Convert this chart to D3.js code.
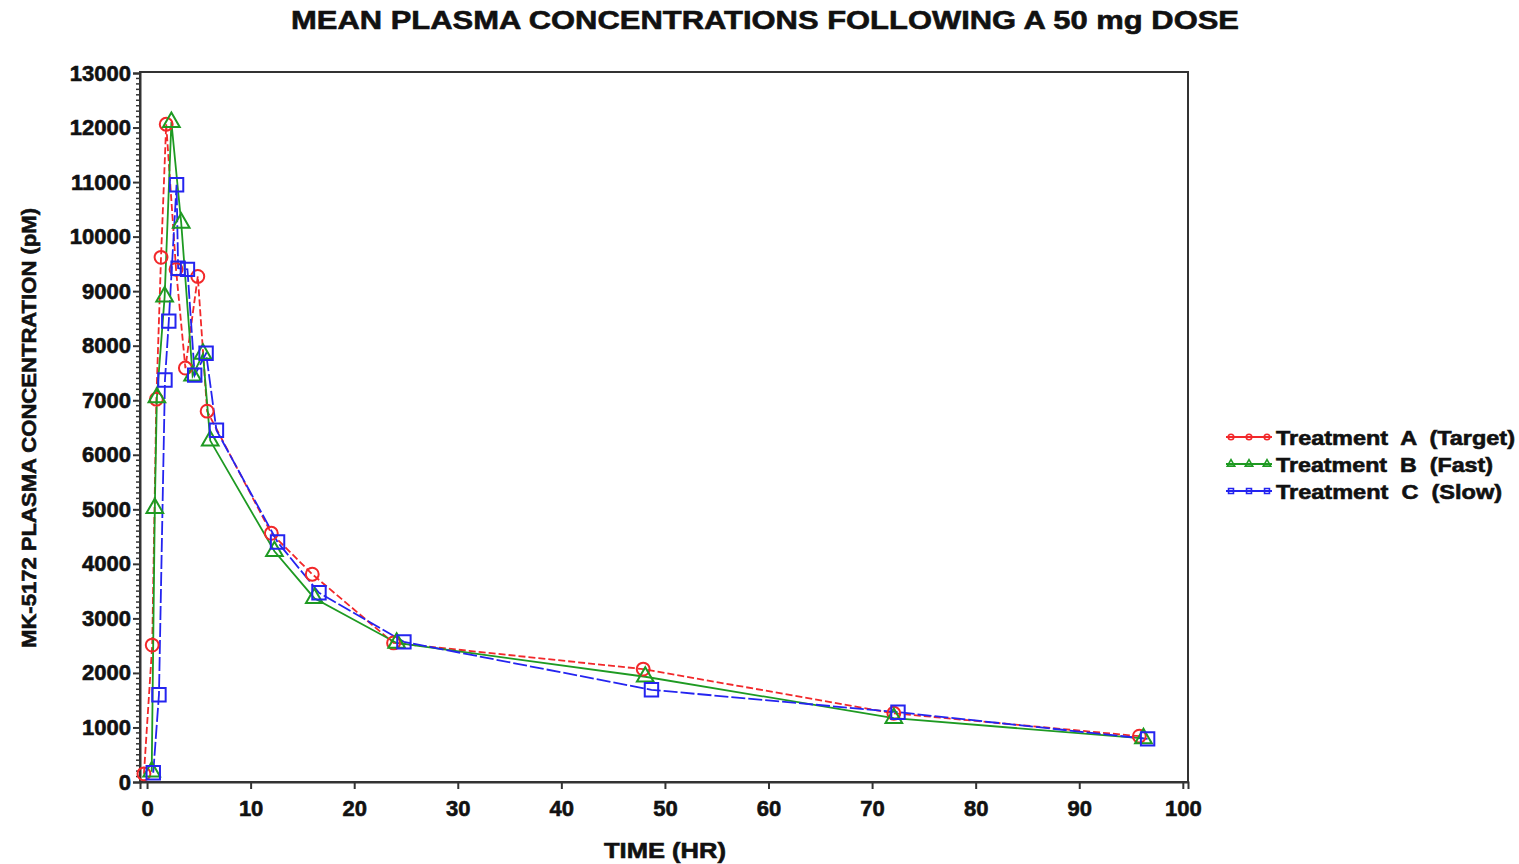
<!DOCTYPE html>
<html>
<head>
<meta charset="utf-8">
<script src="https://cdn.jsdelivr.net/npm/d3@7"></script>
<style>
  html, body { margin: 0; padding: 0; background: #fff; }
  svg { display: block; }
  text { font-family: "Liberation Sans", Arial, sans-serif; font-weight: bold; fill: #111; stroke: #111; stroke-width: 0.6px; }
</style>
</head>
<body>
<svg id="chart" width="1519" height="864"></svg>
<script>
// Mean plasma concentration (pM) versus time (hr); times as plotted (slightly staggered per treatment)
const timeA = [-0.3, 0.5, 0.9, 1.35, 1.85, 2.8, 3.7, 4.9, 5.8, 12.0, 15.95, 23.8, 47.9, 72.1, 95.8];
const concA = [150, 2510, 7020, 9620, 12060, 9400, 7590, 9270, 6800, 4560, 3810, 2550, 2070, 1260, 840];

const timeB = [0.45, 0.75, 0.95, 1.7, 2.35, 3.3, 4.4, 5.4, 6.1, 12.3, 16.15, 24.1, 48.1, 72.1, 96.2];
const concB = [190, 5020, 7050, 8900, 12100, 10250, 7450, 7850, 6260, 4230, 3370, 2550, 1930, 1170, 800];

const timeC = [0.6, 1.15, 1.73, 2.1, 2.85, 3.0, 3.9, 4.6, 5.7, 6.7, 12.6, 16.6, 24.8, 48.7, 72.5, 96.6];
const concC = [170, 1600, 7370, 8450, 10950, 9420, 9400, 7460, 7860, 6450, 4400, 3470, 2570, 1690, 1280, 790];

const seriesNames = ["Treatment  A  (Target)", "Treatment  B  (Fast)", "Treatment  C  (Slow)"];
const seriesColors = ["#f2282a", "#1e9a22", "#2424f0"];
const seriesSymbols = ["circle", "triangle", "square"];
const seriesDash = ["7,3", null, "14,3"];

const xTicks = [0, 10, 20, 30, 40, 50, 60, 70, 80, 90, 100];
const yTicks = [0, 1000, 2000, 3000, 4000, 5000, 6000, 7000, 8000, 9000, 10000, 11000, 12000, 13000];

const titleText = "MEAN PLASMA CONCENTRATIONS FOLLOWING A 50 mg DOSE";
const xTitle = "TIME (HR)";
const yTitle = "MK-5172 PLASMA CONCENTRATION (pM)";

const series = [
  { t: timeA, c: concA },
  { t: timeB, c: concB },
  { t: timeC, c: concC }
].map((s, i) => ({
  name: seriesNames[i], color: seriesColors[i], symbol: seriesSymbols[i], dash: seriesDash[i],
  points: s.t.map((t, j) => ({ t, c: s.c[j] }))
}));

const svg = d3.select("#chart");
const frame = { left: 140, right: 1188, top: 72, bottom: 782 };

const x = d3.scaleLinear().domain([-0.68, 100.5]).range([frame.left, frame.right]);
const y = d3.scaleLinear().domain([0, 13000]).range([782, 73]);

// plot frame
svg.append("rect")
  .attr("x", frame.left).attr("y", frame.top)
  .attr("width", frame.right - frame.left).attr("height", frame.bottom - frame.top)
  .attr("fill", "none").attr("stroke", "#333").attr("stroke-width", 2);

// y axis: major ticks every 1000, minor every 100
const yAxis = d3.axisLeft(y).tickValues(yTicks).tickSize(7).tickPadding(2).tickFormat(d3.format("d"));
const gy = svg.append("g").attr("transform", `translate(${frame.left},0)`).call(yAxis);
gy.select(".domain").attr("stroke", "#333").attr("stroke-width", 2);
gy.selectAll(".tick line").attr("stroke", "#333").attr("stroke-width", 2);
gy.selectAll(".tick text").style("font-size", "22px").attr("fill", "#111");

const minorY = d3.range(0, 13001, 100).filter(v => v % 1000 !== 0);
svg.append("g").selectAll("line").data(minorY).join("line")
  .attr("x1", frame.left - 4).attr("x2", frame.left)
  .attr("y1", d => y(d)).attr("y2", d => y(d))
  .attr("stroke", "#333").attr("stroke-width", 1.5);

// x axis
const xAxis = d3.axisBottom(x).tickValues(xTicks).tickSize(7).tickPadding(11).tickFormat(d3.format("d"));
const gx = svg.append("g").attr("transform", `translate(0,${frame.bottom})`).call(xAxis);
gx.select(".domain").attr("stroke", "#333").attr("stroke-width", 2);
gx.selectAll(".tick line").attr("stroke", "#333").attr("stroke-width", 2);
gx.selectAll(".tick text").style("font-size", "22px").attr("fill", "#111");

// titles
svg.append("text").attr("x", 765).attr("y", 29).attr("text-anchor", "middle")
  .style("font-size", "26px").attr("textLength", 948).attr("lengthAdjust", "spacingAndGlyphs")
  .text(titleText);
svg.append("text").attr("x", 665).attr("y", 858).attr("text-anchor", "middle")
  .style("font-size", "22px").attr("textLength", 122).attr("lengthAdjust", "spacingAndGlyphs")
  .text(xTitle);
svg.append("text").attr("transform", "translate(36,428) rotate(-90)").attr("text-anchor", "middle")
  .style("font-size", "21px").attr("textLength", 440).attr("lengthAdjust", "spacingAndGlyphs")
  .text(yTitle);

// symbol generators
const symbolType = { circle: d3.symbolCircle, triangle: d3.symbolTriangle, square: d3.symbolSquare };
const symbolSize = { circle: 130, triangle: 120, square: 180 };

const line = d3.line().x(d => x(d.t)).y(d => y(d.c));
const plot = svg.append("g");

series.forEach(s => {
  plot.append("path").datum(s.points).attr("d", line)
    .attr("fill", "none").attr("stroke", s.color).attr("stroke-width", 1.8)
    .attr("stroke-dasharray", s.dash);
});
series.forEach(s => {
  plot.append("g").selectAll("path").data(s.points).join("path")
    .attr("transform", d => `translate(${x(d.t)},${y(d.c)})`)
    .attr("d", d3.symbol().type(symbolType[s.symbol]).size(symbolSize[s.symbol]))
    .attr("fill", "none").attr("stroke", s.color).attr("stroke-width", 2);
});

// legend
const legendWidths = [239, 217, 226];
const legend = svg.append("g");
series.forEach((s, i) => {
  const ly = 437 + i * 27;
  const g = legend.append("g");
  g.append("line").attr("x1", 1226).attr("x2", 1272).attr("y1", ly).attr("y2", ly)
    .attr("stroke", s.color).attr("stroke-width", 2.2);
  [1231, 1249, 1267].forEach(px => {
    g.append("path").attr("transform", `translate(${px},${ly})`)
      .attr("d", d3.symbol().type(symbolType[s.symbol]).size(24))
      .attr("fill", "none").attr("stroke", s.color).attr("stroke-width", 1.6);
  });
  g.append("text").attr("x", 1276).attr("y", ly + 8)
    .style("white-space", "pre")
    .attr("textLength", legendWidths[i]).attr("lengthAdjust", "spacingAndGlyphs")
    .style("font-size", "20px").text(s.name);
});
</script>
</body>
</html>
